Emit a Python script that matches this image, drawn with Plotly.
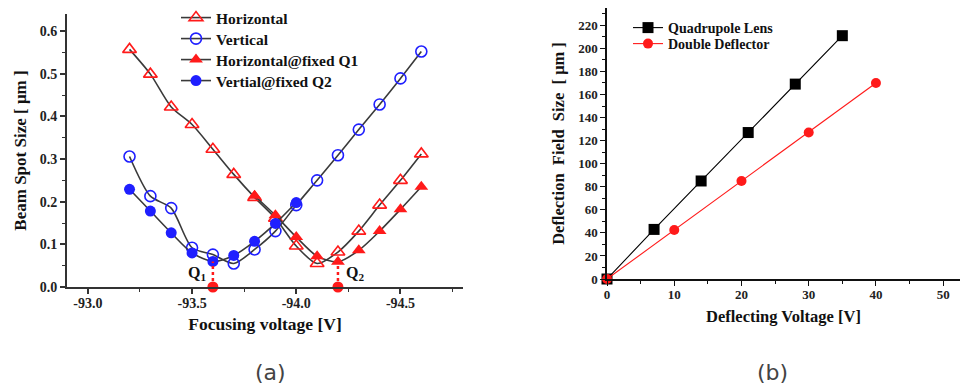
import plotly.graph_objects as go

# ---------------- Panel (a) data ----------------
focus_v = [-93.2, -93.3, -93.4, -93.5, -93.6, -93.7, -93.8, -93.9, -94.0,
           -94.1, -94.2, -94.3, -94.4, -94.5, -94.6]
horizontal = [0.557, 0.499, 0.422, 0.381, 0.323, 0.264, 0.210, 0.161, 0.096,
              0.055, 0.082, 0.131, 0.192, 0.250, 0.312]
vertical = [0.306, 0.213, 0.185, 0.092, 0.076, 0.055, 0.088, 0.131, 0.192,
            0.250, 0.309, 0.369, 0.428, 0.489, 0.552]
focus_v_q2 = [-93.2, -93.3, -93.4, -93.5, -93.6, -93.7, -93.8, -93.9, -94.0]
vertial_fixed_q2 = [0.229, 0.178, 0.127, 0.080, 0.060, 0.074, 0.107, 0.149, 0.198]
focus_v_q1 = [-93.8, -93.9, -94.0, -94.1, -94.2, -94.3, -94.4, -94.5, -94.6]
horizontal_fixed_q1 = [0.214, 0.168, 0.117, 0.072, 0.059, 0.086, 0.131, 0.182, 0.235]
q_names = ["Q<sub>1</sub>", "Q<sub>2</sub>"]
q_positions = [-93.6, -94.2]
q_heights = [0.060, 0.059]
x_ticks_a = [-93.0, -93.5, -94.0, -94.5]
x_ticklabels_a = ["-93.0", "-93.5", "-94.0", "-94.5"]
y_ticks_a = [0.0, 0.1, 0.2, 0.3, 0.4, 0.5, 0.6]
y_ticklabels_a = ["0.0", "0.1", "0.2", "0.3", "0.4", "0.5", "0.6"]

# ---------------- Panel (b) data ----------------
quad_v = [0, 7, 14, 21, 28, 35]
quad_size = [0, 43, 85, 127, 169, 211]
dd_v = [0, 10, 20, 30, 40]
dd_size = [0, 42.5, 85, 127, 170]

SERIF = "Liberation Serif"
DARK = "#333333"
RED = "#ff1a1a"
BLUE = "#1f1fff"
W, H = 961, 386

fig = go.Figure()

line_a = dict(color="#3a3a3a", width=1.6, shape="spline", smoothing=0.75)

fig.add_trace(go.Scatter(
    x=focus_v, y=horizontal, name="Horizontal", mode="lines+markers",
    line=line_a, marker=dict(symbol="triangle-up-open", size=12, color=RED,
                             line=dict(width=1.6, color=RED)),
    xaxis="x", yaxis="y", legend="legend"))
fig.add_trace(go.Scatter(
    x=focus_v, y=vertical, name="Vertical", mode="lines+markers",
    line=line_a, marker=dict(symbol="circle-open", size=11, color=BLUE,
                             line=dict(width=1.6, color=BLUE)),
    xaxis="x", yaxis="y", legend="legend2"))
fig.add_trace(go.Scatter(
    x=focus_v_q1, y=horizontal_fixed_q1, name="Horizontal@fixed Q1", mode="lines+markers",
    line=line_a, marker=dict(symbol="triangle-up", size=12, color=RED),
    xaxis="x", yaxis="y", legend="legend3"))
fig.add_trace(go.Scatter(
    x=focus_v_q2, y=vertial_fixed_q2, name="Vertial@fixed Q2", mode="lines+markers",
    line=line_a, marker=dict(symbol="circle", size=11, color=BLUE),
    xaxis="x", yaxis="y", legend="legend4"))

# dotted markers for Q1 / Q2
for qx, qh in zip(q_positions, q_heights):
    fig.add_trace(go.Scatter(
        x=[qx, qx], y=[0, qh], mode="lines", showlegend=False,
        line=dict(color=RED, width=2.5, dash="dot"), xaxis="x", yaxis="y",
        hoverinfo="skip"))
    fig.add_trace(go.Scatter(
        x=[qx], y=[0], mode="markers", showlegend=False, cliponaxis=False,
        marker=dict(symbol="circle", size=11, color=RED), xaxis="x", yaxis="y"))
fig.add_annotation(x=q_positions[0], y=0.0, xref="x", yref="y", text=q_names[0],
                   showarrow=False, xanchor="right", yanchor="bottom", xshift=-5, yshift=2,
                   font=dict(family=SERIF, size=16, color="#111", weight="bold"))
fig.add_annotation(x=q_positions[1], y=0.0, xref="x", yref="y", text=q_names[1],
                   showarrow=False, xanchor="left", yanchor="bottom", xshift=6, yshift=2,
                   font=dict(family=SERIF, size=16, color="#111", weight="bold"))

# panel (b)
fig.add_trace(go.Scatter(
    x=quad_v, y=quad_size, name="Quadrupole Lens", mode="lines+markers",
    line=dict(color="black", width=1.1),
    marker=dict(symbol="square", size=11, color="black"),
    xaxis="x2", yaxis="y2", legend="legend5", cliponaxis=False))
fig.add_trace(go.Scatter(
    x=dd_v, y=dd_size, name="Double Deflector", mode="lines+markers",
    line=dict(color=RED, width=1.1),
    marker=dict(symbol="circle", size=10, color=RED),
    xaxis="x2", yaxis="y2", legend="legend6", cliponaxis=False))

tickfont_a = dict(family=SERIF, size=14, color="#222", weight="bold")
tickfont_b = dict(family=SERIF, size=13, color="#222", weight="bold")


def leg(xpx, ypx, size):
    return dict(x=xpx / W, y=1 - ypx / H, xanchor="left", yanchor="middle",
                bgcolor="rgba(255,255,255,0)", borderwidth=0,
                font=dict(family=SERIF, size=size, color="#111", weight="bold"),
                itemwidth=30)


fig.update_layout(
    width=W, height=H,
    margin=dict(l=0, r=0, t=0, b=0, autoexpand=False),
    paper_bgcolor="white", plot_bgcolor="white",
    xaxis=dict(domain=[67 / W, 463 / W], range=[-92.9, -94.8], automargin=False,
               tickvals=x_ticks_a, ticktext=x_ticklabels_a, ticklabelstandoff=-3,
               ticks="outside", ticklen=5, tickwidth=1.5, tickcolor=DARK,
               minor=dict(tickmode="linear", tick0=-93.0, dtick=0.25, ticks="outside",
                          ticklen=3, tickcolor=DARK, tickwidth=1.2),
               showline=True, linecolor=DARK, linewidth=2, showgrid=False, zeroline=False,
               tickfont=tickfont_a, anchor="y",
               title=dict(text="Focusing voltage [V]", standoff=8,
                          font=dict(family=SERIF, size=17.5, color="#111", weight="bold"))),
    yaxis=dict(domain=[99 / H, 372 / H], range=[0, 0.64], automargin=False,
               tickvals=y_ticks_a, ticktext=y_ticklabels_a,
               ticks="outside", ticklen=5, tickwidth=1.5, tickcolor=DARK,
               minor=dict(tickmode="linear", tick0=0, dtick=0.05, ticks="outside",
                          ticklen=3, tickcolor=DARK, tickwidth=1.2),
               showline=True, linecolor=DARK, linewidth=2, showgrid=False, zeroline=False,
               tickfont=tickfont_a, anchor="x",
               title=dict(text="Beam Spot Size [ μm ]", standoff=9,
                          font=dict(family=SERIF, size=17, color="#111", weight="bold"))),
    xaxis2=dict(domain=[607 / W, 960 / W], range=[0, 52.5], automargin=False,
                tick0=0, dtick=10, ticklabelstandoff=-2,
                ticks="outside", ticklen=5, tickwidth=1.3, tickcolor="#111",
                minor=dict(tick0=0, dtick=5, ticks="outside", ticklen=3,
                           tickcolor="#111", tickwidth=1.1),
                showline=True, linecolor="#111", linewidth=1.5, showgrid=False, zeroline=False,
                tickfont=tickfont_b, anchor="y2",
                title=dict(text="Deflecting Voltage [V]", standoff=9,
                           font=dict(family=SERIF, size=16.5, color="#111", weight="bold"))),
    yaxis2=dict(domain=[107 / H, 378 / H], range=[0, 235], automargin=False,
                tick0=0, dtick=20,
                ticks="outside", ticklen=5, tickwidth=1.3, tickcolor="#111",
                minor=dict(tick0=0, dtick=10, ticks="outside", ticklen=3,
                           tickcolor="#111", tickwidth=1.1),
                showline=True, linecolor="#111", linewidth=1.5, showgrid=False, zeroline=False,
                tickfont=tickfont_b, anchor="x2",
                title=dict(text="Deflection  Field  Size  [ μm ]", standoff=9,
                           font=dict(family=SERIF, size=16.5, color="#111", weight="bold"))),
    legend=leg(176, 18, 15.5),
    legend2=leg(176, 39, 15.5),
    legend3=leg(176, 60, 15.5),
    legend4=leg(176, 81, 15.5),
    legend5=leg(628, 28, 14),
    legend6=leg(628, 44, 14),
    showlegend=True,
)

fig.add_annotation(x=270 / W, y=1 - 372 / H, xref="paper", yref="paper", text="(a)",
                   showarrow=False, xanchor="center", yanchor="middle",
                   font=dict(family="DejaVu Sans", size=22, color="#444"))
fig.add_annotation(x=772 / W, y=1 - 372 / H, xref="paper", yref="paper", text="(b)",
                   showarrow=False, xanchor="center", yanchor="middle",
                   font=dict(family="DejaVu Sans", size=22, color="#444"))

fig.write_html("out.html", config={"displayModeBar": False},
               post_script="document.body.style.margin='0px';document.body.style.padding='0px';")
